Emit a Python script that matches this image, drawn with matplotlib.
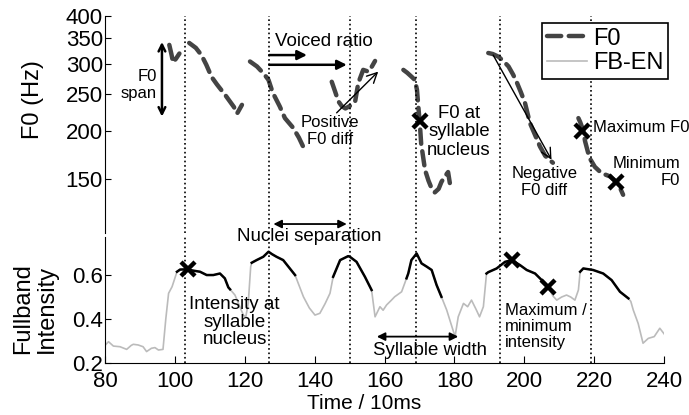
import numpy as np
import matplotlib
matplotlib.use("Agg")
import matplotlib.pyplot as plt
from matplotlib.ticker import NullLocator

plt.rcParams['font.family'] = ['Liberation Sans', 'DejaVu Sans']

# F0 contour (Hz), one list per voiced segment, time in 10ms frames
f0_times = [
    [98.4, 99.0, 99.5, 100.4, 101.3],
    [104.1, 106.0, 107.6, 109.0, 110.5, 112.0, 114.6, 116.9, 117.8, 119.2],
    [121.5, 123.5, 125.5, 126.8, 128.0, 130.0, 131.5, 133.8, 135.5, 136.7],
    [144.9, 145.9, 146.8, 147.8, 148.8, 149.6, 150.6, 151.6, 152.5, 153.9, 155.4, 156.4, 157.3],
    [165.4, 166.5, 167.8, 168.7, 169.3, 169.8, 170.1, 170.5, 171.6, 172.6, 173.4, 174.4, 175.5, 176.3, 177.3, 178.2, 178.7],
    [189.7, 191.0, 192.6, 194.0, 195.5, 196.8, 197.8, 199.0, 200.2, 201.6, 203.0, 204.5, 206.0, 207.2, 208.2],
    [215.5, 216.0, 216.5, 216.9, 217.4, 218.3, 219.0, 220.2, 222.1, 224.5, 226.4, 227.4, 228.3],
]
f0_vals = [
    [336, 318, 302, 310, 319],
    [340, 330, 316, 298, 277, 265, 247, 231, 222, 234],
    [304, 295, 282, 272, 252, 232, 216, 204, 192, 182],
    [269, 253, 239, 232, 229, 231, 234, 239, 267, 289, 286, 295, 305],
    [289, 284, 277, 272, 256, 225, 210, 185, 158, 148, 142, 138, 141, 147, 152, 156, 146],
    [320, 318, 313, 305, 295, 281, 269, 253, 237, 210, 196, 182, 172, 168, 165],
    [216, 211, 205, 200, 188, 175, 168, 161, 155, 152, 147, 142, 136],
]

# fullband intensity (FB-EN)
int_t = [80.1, 81.0, 82.4, 84.3, 86.2, 87.5, 88.1, 89.5, 90.9, 91.9, 93.3, 94.3, 95.3, 96.6,
         97.4, 98.2, 99.2, 100.6, 101.5, 103.4, 105.3, 107.2, 109.1, 111.0, 112.9, 114.3,
         115.3, 115.8, 117.2, 118.6, 119.6, 120.3, 121.0, 121.7, 122.0, 123.4, 125.3, 126.8,
         127.8, 129.1, 131.0, 132.9, 134.4, 136.8, 138.5, 140.1, 141.5, 143.0, 144.4, 145.3,
         147.3, 149.6, 150.1, 152.0, 154.4, 156.3, 157.3, 158.7, 159.6, 160.6, 162.0, 162.9,
         164.9, 166.3, 166.8, 167.7, 169.2, 170.6, 172.1, 173.5, 174.9, 176.3, 177.8, 179.0,
         180.2, 181.1, 182.6, 183.8, 184.9, 186.3, 187.2, 188.3, 189.2, 189.7, 192.1, 194.5,
         196.4, 198.8, 200.7, 203.1, 205.0, 206.9, 208.2, 209.3, 210.7, 212.1, 213.3, 214.5,
         215.5, 216.0, 216.9, 219.7, 222.6, 225.0, 227.4, 229.8, 230.5, 231.2, 232.6, 234.0,
         235.5, 237.2, 238.8, 240.3]
int_v = [0.282, 0.297, 0.277, 0.274, 0.262, 0.280, 0.285, 0.282, 0.274, 0.252, 0.267, 0.270, 0.259, 0.262,
         0.400, 0.517, 0.547, 0.615, 0.625, 0.626, 0.620, 0.615, 0.600, 0.600, 0.607, 0.585,
         0.544, 0.535, 0.509, 0.456, 0.418, 0.410, 0.471, 0.638, 0.656, 0.668, 0.683, 0.706,
         0.695, 0.683, 0.668, 0.630, 0.600, 0.501, 0.450, 0.418, 0.426, 0.470, 0.517, 0.592,
         0.668, 0.686, 0.683, 0.660, 0.592, 0.532, 0.410, 0.456, 0.440, 0.464, 0.486, 0.501,
         0.524, 0.585, 0.607, 0.668, 0.698, 0.653, 0.638, 0.623, 0.555, 0.501, 0.441, 0.380,
         0.320, 0.410, 0.471, 0.456, 0.486, 0.441, 0.410, 0.456, 0.607, 0.613, 0.630, 0.660,
         0.668, 0.645, 0.623, 0.607, 0.577, 0.544, 0.505, 0.486, 0.500, 0.509, 0.500, 0.486,
         0.532, 0.615, 0.630, 0.623, 0.607, 0.577, 0.524, 0.494, 0.480, 0.441, 0.380, 0.290,
         0.312, 0.320, 0.358, 0.327]

# syllable nucleus regions (drawn black on the intensity curve)
nuclei = [(100.6, 115.8), (122.0, 134.4), (145.3, 156.3), (166.3, 176.3), (189.2, 206.9), (216.0, 229.8)]
# syllable boundaries (dotted)
boundaries = [103, 127, 150, 169, 193, 219]

# marked points
f0_marks_t = [170.2, 216.4, 226.4]
f0_marks_v = [212, 200, 147]
int_marks_t = [103.8, 196.4, 206.9]
int_marks_v = [0.626, 0.668, 0.544]

f0_ticks = [150, 200, 250, 300, 350, 400]
int_ticks = [0.2, 0.4, 0.6]
time_ticks = [80, 100, 120, 140, 160, 180, 200, 220, 240]

fig = plt.figure(figsize=(6.89, 4.15), dpi=100)
W, H = 689.0, 415.0
L, R = 105 / W, 664 / W
ax1 = fig.add_axes([L, 1 - 233 / H, R - L, (233 - 16) / H])
ax2 = fig.add_axes([L, 1 - 363 / H, R - L, (363 - 237) / H])

f0_color = '#444444'
lines = []
for tt, vv in zip(f0_times, f0_vals):
    ln, = ax1.plot(tt, vv, color=f0_color, lw=3.2, linestyle=(0, (3.2, 1.7)),
                   dash_capstyle='round', solid_capstyle='round')
    lines.append(ln)
ax1.plot(f0_marks_t, f0_marks_v, 'x', color='k', ms=10, mew=3.2)

ax1.set_yscale('log')
ax1.set_ylim(108, 400)
ax1.set_xlim(80, 240)
ax1.set_yticks(f0_ticks)
ax1.set_yticklabels([str(v) for v in f0_ticks])
ax1.yaxis.set_minor_locator(NullLocator())
ax1.set_xticks([])
for s in ['top', 'right', 'bottom']:
    ax1.spines[s].set_visible(False)
ax1.tick_params(axis='y', direction='in', length=4, pad=1.5, labelsize=16)
ax1.patch.set_alpha(0)

it = np.array(int_t)
iv = np.array(int_v)
gray_ln, = ax2.plot(it, iv, color='#bbbbbb', lw=1.2)
for a, b in nuclei:
    m = (it >= a) & (it <= b)
    ax2.plot(it[m], iv[m], color='k', lw=1.8)
ax2.plot(int_marks_t, int_marks_v, 'x', color='k', ms=10, mew=3.2)
ax2.set_xlim(80, 240)
ax2.set_ylim(0.2, 0.773)
ax2.set_yticks(int_ticks)
ax2.set_yticklabels(['0.2', '0.4', '0.6'])
ax2.set_xticks(time_ticks)
for s in ['top', 'right']:
    ax2.spines[s].set_visible(False)
ax2.tick_params(axis='y', direction='in', length=4, pad=1.5, labelsize=16)
ax2.tick_params(axis='x', direction='in', length=5, pad=6, labelsize=16)
ax2.patch.set_alpha(0)

for b in boundaries:
    ax1.axvline(b, color='k', ls=':', lw=1.2)
    ax2.axvline(b, color='k', ls=':', lw=1.2)

fig.text(33 / W, 1 - 100 / H, 'F0 (Hz)', rotation=90, ha='center', va='center', fontsize=17)
fig.text(35 / W, 1 - 309 / H, 'Fullband\nIntensity', rotation=90, ha='center', va='center',
         fontsize=17, linespacing=1.05)
fig.text(364 / W, 1 - 403 / H, 'Time / 10ms', ha='center', va='center', fontsize=15)

leg = fig.legend([lines[0], gray_ln], ['F0', 'FB-EN'], loc='upper right',
                 bbox_to_anchor=(668 / W, 1 - 23 / H), bbox_transform=fig.transFigure,
                 fontsize=17, handlelength=1.7, handletextpad=0.25, labelspacing=0.1,
                 borderpad=0.2, borderaxespad=0, fancybox=False, framealpha=1)
leg.get_frame().set_edgecolor('k')
leg.get_frame().set_linewidth(1.2)

# top panel annotations
ax1.text(128.7, 342, 'Voiced ratio', ha='left', va='center', fontsize=13.5)
ax1.annotate('', xy=(137.8, 316), xytext=(127, 316),
             arrowprops=dict(arrowstyle='-|>', lw=1.8, color='k', mutation_scale=14,
                             shrinkA=0, shrinkB=0))
ax1.annotate('', xy=(149.2, 298), xytext=(127, 298),
             arrowprops=dict(arrowstyle='-|>', lw=1.8, color='k', mutation_scale=14,
                             shrinkA=0, shrinkB=0))
ax1.annotate('', xy=(96.3, 342), xytext=(96.3, 218),
             arrowprops=dict(arrowstyle='<->', lw=1.8, color='k', mutation_scale=12,
                             shrinkA=0, shrinkB=0))
ax1.text(94.9, 264, 'F0\nspan', ha='right', va='center', fontsize=12, multialignment='right')
ax1.annotate('', xy=(158.2, 286), xytext=(146.3, 223),
             arrowprops=dict(arrowstyle='->', lw=1.0, color='k', mutation_scale=18,
                             shrinkA=0, shrinkB=0))
ax1.text(144.4, 200, 'Positive\nF0 diff', ha='center', va='center', fontsize=12)
ax1.text(181.3, 199, 'F0 at\nsyllable\nnucleus', ha='center', va='center', fontsize=13.3,
         linespacing=1.1)
ax1.annotate('', xy=(207.8, 168), xytext=(191.1, 316),
             arrowprops=dict(arrowstyle='->', lw=1.0, color='k', mutation_scale=18,
                             shrinkA=0, shrinkB=0))
ax1.text(205.7, 147, 'Negative\nF0 diff', ha='center', va='center', fontsize=12)
ax1.text(219.8, 204.6, 'Maximum F0', ha='left', va='center', fontsize=12)
ax1.text(244.6, 155.8, 'Minimum\nF0', ha='right', va='center', fontsize=12,
         multialignment='right')

# bottom panel annotations
ax2.text(138.4, 0.774, 'Nuclei separation', ha='center', va='center', fontsize=13.5, clip_on=False)
ax2.annotate('', xy=(149.2, 0.832), xytext=(128.2, 0.832), annotation_clip=False,
             arrowprops=dict(arrowstyle='<|-|>', lw=1.3, color='k', mutation_scale=12,
                             shrinkA=0, shrinkB=0))
ax2.text(117.1, 0.386, 'Intensity at\nsyllable\nnucleus', ha='center', va='center',
         fontsize=13.5, linespacing=1.05)
ax2.text(172.9, 0.259, 'Syllable width', ha='center', va='center', fontsize=13.4)
ax2.annotate('', xy=(181.1, 0.32), xytext=(157.8, 0.32),
             arrowprops=dict(arrowstyle='<|-|>', lw=1.3, color='k', mutation_scale=12,
                             shrinkA=0, shrinkB=0))
ax2.text(194.5, 0.365, 'Maximum /\nminimum\nintensity', ha='left', va='center', fontsize=12,
         multialignment='left', linespacing=1.1)

fig.savefig('out.png', dpi=100)
